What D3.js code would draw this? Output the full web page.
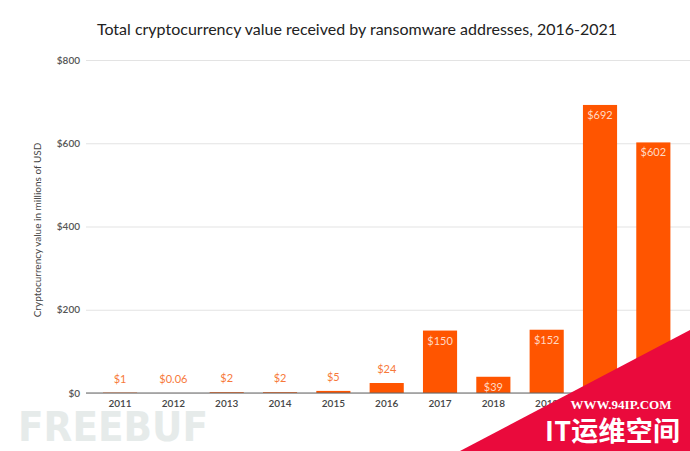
<!DOCTYPE html>
<html><head><meta charset="utf-8">
<script src="https://cdn.jsdelivr.net/npm/d3@7"></script>
<style>body{margin:0;background:#fff}svg{display:block}</style>
</head><body>
<svg id="c" width="690" height="451"></svg>
<script>
const years = ["2011","2012","2013","2014","2015","2016","2017","2018","2019","2020","2021"];
const values = [1, 0.06, 2, 2, 5, 24, 150, 39, 152, 692, 602];
const valueLabels = ["$1","$0.06","$2","$2","$5","$24","$150","$39","$152","$692","$602"];
const yTicks = [0, 200, 400, 600, 800];
const title = "Total cryptocurrency value received by ransomware addresses, 2016-2021";
const yTitle = "Cryptocurrency value in millions of  USD";

const svg = d3.select("#c");
const font = "Lato, 'Open Sans', sans-serif";
const x = d3.scaleBand().domain(years).range([93.4, 680]).paddingInner(0.36).paddingOuter(0.18);
const y = d3.scaleLinear().domain([0, 800]).range([393, 60]);
const barColor = "#ff5500";

// watermark (background)
svg.append("text").attr("x", 18).attr("y", 441).attr("font-family", "'DejaVu Sans', sans-serif")
  .attr("font-weight", 900).attr("font-size", 40).attr("textLength", 190).attr("lengthAdjust", "spacingAndGlyphs")
  .attr("fill", "#e6ebea").text("FREEBUF");

// title
svg.append("text").attr("x", 357).attr("y", 35).attr("text-anchor", "middle")
  .attr("font-family", font).attr("font-size", 16).attr("fill", "#222").text(title);

// y grid & axis
const yAxis = d3.axisLeft(y).tickValues(yTicks).tickSize(-604).tickPadding(6).tickFormat(d => "$" + d);
const gy = svg.append("g").attr("transform", "translate(86,0)").call(yAxis);
gy.select(".domain").remove();
gy.selectAll(".tick line").attr("stroke", "#e3e3e3").attr("stroke-width", 1.2);
gy.selectAll(".tick text").attr("font-family", font).attr("font-size", 10).attr("fill", "#555").attr("font-weight", 600);

// y title
svg.append("text").attr("transform", "translate(41,230) rotate(-90)").attr("text-anchor", "middle")
  .attr("font-family", font).attr("font-size", 10).attr("fill", "#444").text(yTitle);

// bars
svg.append("g").selectAll("rect").data(years).join("rect")
  .attr("x", d => x(d)).attr("width", x.bandwidth())
  .attr("y", (d, i) => y(values[i])).attr("height", (d, i) => y(0) - y(values[i]))
  .attr("fill", barColor);

// baseline
svg.append("line").attr("x1", 86).attr("x2", 690).attr("y1", y(0)).attr("y2", y(0))
  .attr("stroke", "#666").attr("stroke-width", 1.2);

// x axis labels
const xAxis = d3.axisBottom(x).tickSize(0).tickPadding(7);
const gx = svg.append("g").attr("transform", `translate(0,${y(0)})`).call(xAxis);
gx.select(".domain").remove();
gx.selectAll(".tick text").attr("font-family", font).attr("font-size", 10).attr("fill", "#444").attr("font-weight", 600);

// value labels
svg.append("g").selectAll("text").data(years).join("text")
  .attr("x", d => x(d) + x.bandwidth() / 2)
  .attr("y", (d, i) => values[i] >= 30 ? y(values[i]) + 14 : y(values[i]) - 10)
  .attr("text-anchor", "middle").attr("font-family", font).attr("font-size", 11)
  .attr("fill", (d, i) => values[i] >= 30 ? "#ffd9c4" : "#f7793a")
  .text((d, i) => valueLabels[i]);

// corner watermark
svg.append("polygon").attr("points", "460,451 690,330 690,451").attr("fill", "#ea0a3c");
svg.append("text").attr("x", 621).attr("y", 409).attr("text-anchor", "middle")
  .attr("font-family", "'Liberation Serif', serif").attr("font-weight", 700).attr("font-size", 13)
  .attr("fill", "#fff").text("WWW.94IP.COM");
svg.append("text").attr("x", 545).attr("y", 441)
  .attr("font-family", "'Noto Sans CJK SC', sans-serif").attr("font-weight", 700).attr("font-size", 27)
  .attr("textLength", 135).attr("lengthAdjust", "spacing")
  .attr("fill", "#fff").text("IT运维空间");
</script>
</body></html>
